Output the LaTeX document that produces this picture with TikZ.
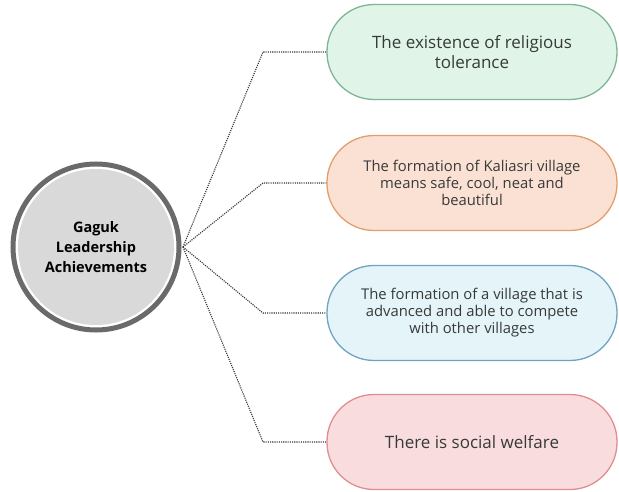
\documentclass[tikz,border=0pt]{standalone}
\usepackage{fontspec}
\setmainfont{Open Sans}
\usetikzlibrary{positioning}
\definecolor{txt}{HTML}{373A38}
\definecolor{ringgray}{HTML}{6A6A6A}
\definecolor{hubfill}{HTML}{D9D9D9}
\definecolor{gfill}{HTML}{E0F5E8}\definecolor{gline}{HTML}{7FB596}
\definecolor{ofill}{HTML}{FBE1D3}\definecolor{oline}{HTML}{E0A06E}
\definecolor{bfill}{HTML}{E4F4F9}\definecolor{bline}{HTML}{6FA5BD}
\definecolor{rfill}{HTML}{F9DDDE}\definecolor{rline}{HTML}{E08D93}
\tikzset{
  x=1pt, y=-1pt,
  pill/.style={draw, line width=1.3pt, rounded corners=47pt, minimum width=290pt,
    minimum height=95pt, align=center, text=txt, inner sep=0pt},
  link/.style={draw=txt!90!black, line width=1.1pt, dash pattern=on 1.1pt off 1.1pt},
}
\begin{document}
\begin{tikzpicture}
\useasboundingbox[fill=white] (0,0) rectangle (619,492);
% central hub
\node[circle, draw=ringgray, line width=5pt, minimum size=166pt, inner sep=0pt] (ring) at (96,247) {};
\node[circle, fill=hubfill, minimum size=156pt, inner sep=0pt, align=center, text=black,
  font=\fontsize{14.5}{20}\selectfont\bfseries] (hub) at (96,247) {Gaguk\\Leadership\\Achievements};
% outcome boxes
\node[pill, draw=gline, fill=gfill, font=\fontsize{17}{19.5}\selectfont] (g) at (472,52)
  {The existence of religious\\tolerance};
\node[pill, draw=oline, fill=ofill, font=\fontsize{14.8}{17}\selectfont] (o) at (472,183)
  {The formation of Kaliasri village\\means safe, cool, neat and\\beautiful};
\node[pill, draw=bline, fill=bfill, font=\fontsize{14.8}{17}\selectfont] (b) at (472,313)
  {The formation of a village that is\\advanced and able to compete\\with other villages};
\node[pill, draw=rline, fill=rfill, font=\fontsize{17}{19.5}\selectfont] (r) at (472,442)
  {There is social welfare};
% connectors
\coordinate (hub-out) at (183,247);
\foreach \t in {g,o,b,r}{
  \draw[link] (hub-out) -- (263,0 |- \t.west) -- (\t.west);
}
\end{tikzpicture}
\end{document}
